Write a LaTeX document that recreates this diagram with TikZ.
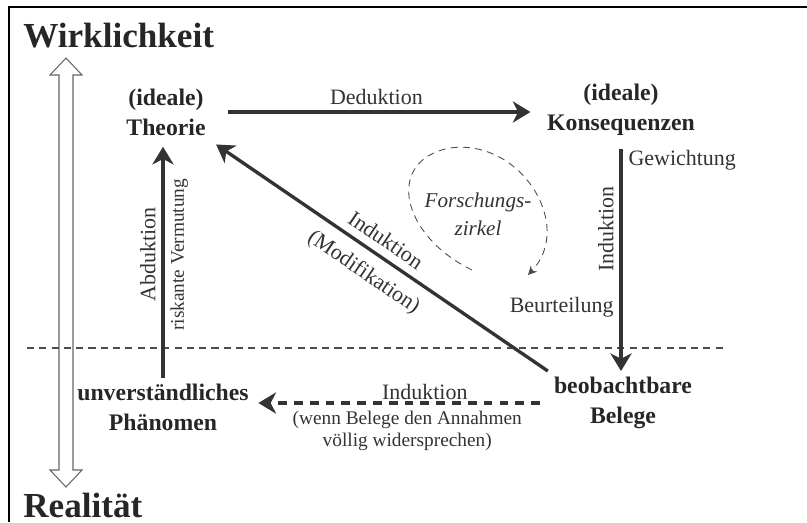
\documentclass[tikz,border=0pt]{standalone}
\usepackage{fontspec}
\setmainfont{Liberation Serif}
\usetikzlibrary{arrows.meta}

\newcommand*{\xmin}{0}
\newcommand*{\xmax}{807}
\newcommand*{\ymin}{0}
\newcommand*{\ymax}{522}

\begin{document}
\begin{tikzpicture}
[
	stage/.style={font=\fontsize{13.5}{17}\selectfont\bfseries, align=center, text=black!85},
	pole/.style={font=\fontsize{20}{24}\selectfont\bfseries, text=black!85, inner sep=0pt},
	lbl/.style={font=\fontsize{12.5}{15}\selectfont, text=black!80},
	smalllbl/.style={font=\fontsize{11}{13}\selectfont, text=black!80, align=center},
	arr/.style={-{Stealth[length=10pt,width=12pt,inset=3pt]}, line width=1.9pt, draw=black!80},
	x=0.02cm,
	y=-0.02cm
]

	\useasboundingbox (\xmin,\ymin) rectangle (\xmax,\ymax);

	% frame
	\draw[line width=1.5pt] (9,\ymax) -- (9,7) -- (\xmax,7);

	% poles
	\node[pole, anchor=base west] (wirk) at (23,47) {Wirklichkeit};
	\node[pole, anchor=base west] (real) at (23,517) {Realität};

	% hollow double arrow
	\draw[black!60, line width=0.6pt] (66,58) -- (82,75) -- (73,75) -- (73,470) -- (82,470)
		-- (66,487) -- (50,470) -- (59,470) -- (59,75) -- (50,75) -- cycle;

	% border between theory and observation
	\draw[black!70, line width=0.6pt, dash pattern=on 4pt off 3pt] (27,348) -- (727,348);

	% stages
	\node[stage] (theorie) at (166,112) {(ideale)\\Theorie};
	\node[stage] (konseq) at (621,110) {(ideale)\\Konsequenzen};
	\node[stage] (belege) at (623,403) {beobachtbare\\Belege};
	\node[stage] (phaen) at (163,407) {unverständliches\\Phänomen};

	% deduction
	\draw[arr, shorten <=9pt, shorten >=6pt] (theorie.east) -- (theorie.east -| konseq.west)
		node[lbl, midway, above] (ded) {Deduktion};

	% induction downwards
	\draw[arr, shorten <=4pt] (konseq.south) -- (konseq.south |- belege.north)
		node[lbl, pos=0.08, right] (gew) {Gewichtung}
		node[lbl, pos=0.38, rotate=90, anchor=south] (indv) {Induktion}
		node[lbl, pos=0.72, left] (beur) {Beurteilung};

	% abduction
	\draw[arr, shorten >=3pt] (phaen.north) -- (phaen.north |- theorie.south)
		node[lbl, pos=0.52, rotate=90, anchor=south] (abd) {Abduktion}
		node[smalllbl, pos=0.52, rotate=90, anchor=north] (risk) {riskante Vermutung};

	% modification
	\draw[arr, shorten >=3pt] (belege.north west) -- (theorie.south east)
		node[lbl, pos=0.51, sloped, above=1pt] (indd) {Induktion}
		node[lbl, pos=0.51, sloped, below=3pt] (modi) {(Modifikation)};

	% induction backwards
	\draw[arr, line width=2.1pt, dash pattern=on 5pt off 4pt, shorten <=4.5pt, shorten >=2pt]
		(belege.west) -- (belege.west -| phaen.east)
		node[lbl, pos=0.42, above, inner sep=1pt] (indh) {Induktion}
		node[smalllbl, pos=0.48, below] (wenn) {(wenn Belege den Annahmen\\völlig widersprechen)};

	% research circle
	\node[lbl, font=\fontsize{12}{16}\selectfont\itshape, align=center] (zirkel) at (478,214) {Forschungs-\\zirkel};
	\draw[black!70, line width=0.5pt, dash pattern=on 4pt off 3pt, -{Stealth[length=5pt,width=5pt]}]
		(472,270) .. controls (400,235) and (385,160) .. (450,148)
		.. controls (520,138) and (575,225) .. (528,275);

\end{tikzpicture}
\end{document}
